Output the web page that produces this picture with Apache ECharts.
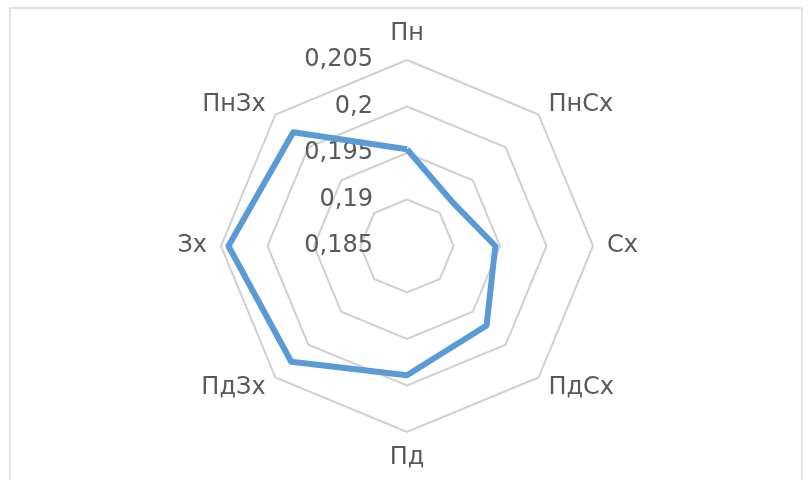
<!DOCTYPE html>
<html>
<head>
<meta charset="utf-8">
<script src="https://cdn.jsdelivr.net/npm/echarts@6/dist/echarts.min.js"></script>
<style>
  html, body { margin: 0; padding: 0; background: #fff; }
  #chart { width: 808px; height: 480px; }
</style>
</head>
<body>
<div id="chart"></div>
<script>
// напрямки (за годинниковою стрілкою від півночі)
const directions = ['Пн', 'ПнСх', 'Сх', 'ПдСх', 'Пд', 'ПдЗх', 'Зх', 'ПнЗх'];
const values = [0.1954, 0.1918, 0.1945, 0.1971, 0.1989, 0.2026, 0.2042, 0.2023];
const scaleMin = 0.185;
const scaleMax = 0.205;
const scaleStep = 0.005;

const cx = 407, cy = 246, r = 186;
const textColor = '#595959';
const font = 'DejaVu Sans';

// echarts radar goes counterclockwise, so flip the order after the first axis
const order = [0].concat(directions.map((d, i) => i).slice(1).reverse());

const chart = echarts.init(document.getElementById('chart'));
const option = {
  animation: false,
  graphic: [{
    type: 'rect',
    shape: { x: 10, y: 8, width: 792, height: 480 },
    style: { fill: 'none', stroke: '#d9d9d9', lineWidth: 1.5 },
    silent: true
  }],
  // підписи шкали вздовж осі Пн
  grid: { left: cx, top: cy - r, width: 1, height: r },
  xAxis: { type: 'value', show: false },
  yAxis: {
    type: 'value',
    min: scaleMin,
    max: scaleMax,
    interval: scaleStep,
    axisLine: { show: false },
    axisTick: { show: false },
    splitLine: { show: false },
    axisLabel: {
      margin: 34,
      color: textColor,
      fontFamily: font,
      fontSize: 24,
      formatter: v => String(+v.toFixed(3)).replace('.', ',')
    }
  },
  radar: {
    center: [cx, cy],
    radius: r,
    startAngle: 90,
    shape: 'polygon',
    splitNumber: 4,
    indicator: order.map(i => ({ name: directions[i], min: scaleMin, max: scaleMax })),
    axisName: { color: textColor, fontFamily: font, fontSize: 24 },
    nameGap: 14,
    axisLine: { show: false },
    axisTick: { show: false },
    axisLabel: { show: false },
    splitArea: { show: false },
    splitLine: { lineStyle: { color: '#d0d0d0', width: 2 } }
  },
  series: [{
    type: 'radar',
    symbol: 'none',
    lineStyle: { color: '#5b9bd5', width: 6, join: 'round' },
    data: [{ value: order.map(i => values[i]) }]
  }]
};
chart.setOption(option);
window.addEventListener('resize', function () {
  chart.resize();
});
</script>
</body>
</html>
